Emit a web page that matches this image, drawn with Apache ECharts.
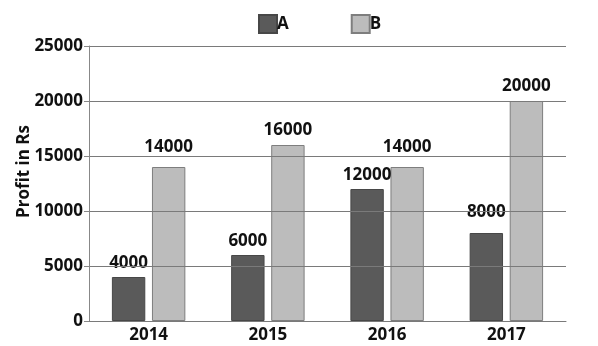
<!DOCTYPE html>
<html>
<head>
<meta charset="utf-8">
<script src="https://cdn.jsdelivr.net/npm/echarts@6/dist/echarts.min.js"></script>
<style>
  html, body { margin: 0; padding: 0; background: #fff; }
  #chart { width: 598px; height: 346px; }
</style>
</head>
<body>
<div id="chart"></div>
<script>
// Yearly profit of companies A and B
const years = ['2014', '2015', '2016', '2017'];
const profitA = [4000, 6000, 12000, 8000];
const profitB = [14000, 16000, 14000, 20000];
const yTicks = { min: 0, max: 25000, interval: 5000 };

const FONT = '"Open Sans", "DejaVu Sans", sans-serif';
const TEXT_SIZE = 17;

// gap (px) between each value label and the top of its bar
const labelGapA = [5, 5, 5, 12];
const labelGapB = [11, 6, 11, 6];

const chart = echarts.init(document.getElementById('chart'), null, { renderer: 'canvas' });

function labelled(values, gaps) {
  return values.map((v, i) => ({
    value: v,
    label: {
      show: true,
      position: 'top',
      distance: gaps[i],
      fontFamily: FONT,
      fontWeight: 'bold',
      fontSize: TEXT_SIZE,
      color: '#111'
    }
  }));
}

chart.setOption({
  animation: false,
  backgroundColor: '#fff',
  legend: {
    top: 9,
    left: 253,
    itemWidth: 18,
    itemHeight: 18,
    itemGap: 62,
    icon: 'rect',
    textStyle: { fontFamily: FONT, fontWeight: 'bold', fontSize: TEXT_SIZE, color: '#111', padding: [0, 0, 4, -5] },
    data: ['A', 'B']
  },
  grid: { left: 89, right: 32, top: 46, bottom: 25, containLabel: false },
  xAxis: {
    type: 'category',
    data: years,
    axisLine: { lineStyle: { color: '#777', width: 1 } },
    axisTick: { show: false },
    axisLabel: { fontFamily: FONT, fontWeight: 'bold', fontSize: TEXT_SIZE, color: '#111', margin: 6 }
  },
  yAxis: {
    type: 'value',
    min: yTicks.min,
    max: yTicks.max,
    interval: yTicks.interval,
    z: 5,
    name: 'Profit in Rs',
    nameLocation: 'middle',
    nameRotate: 90,
    nameGap: 56,
    nameMoveOverlap: false,
    nameTextStyle: {
      fontFamily: FONT, fontWeight: 'bold', fontSize: TEXT_SIZE, color: '#111',
      padding: [0, 0, 0, 24]
    },
    axisLine: { show: true, lineStyle: { color: '#888', width: 1 } },
    axisTick: { show: true, length: 5, lineStyle: { color: '#888' } },
    axisLabel: {
      fontFamily: FONT, fontWeight: 'bold', fontSize: TEXT_SIZE, color: '#111', margin: 6,
      formatter: v => String(v)
    },
    splitLine: { show: true, lineStyle: { color: '#7a7a7a', width: 1 } }
  },
  series: [
    {
      name: 'A',
      type: 'bar',
      data: labelled(profitA, labelGapA),
      barWidth: '28%',
      barGap: '20%',
      itemStyle: { color: '#5a5a5a', borderColor: '#474747', borderWidth: 1 }
    },
    {
      name: 'B',
      type: 'bar',
      data: labelled(profitB, labelGapB),
      barWidth: '28%',
      itemStyle: { color: '#bcbcbc', borderColor: '#7e7e7e', borderWidth: 1 }
    }
  ]
});
</script>
</body>
</html>
